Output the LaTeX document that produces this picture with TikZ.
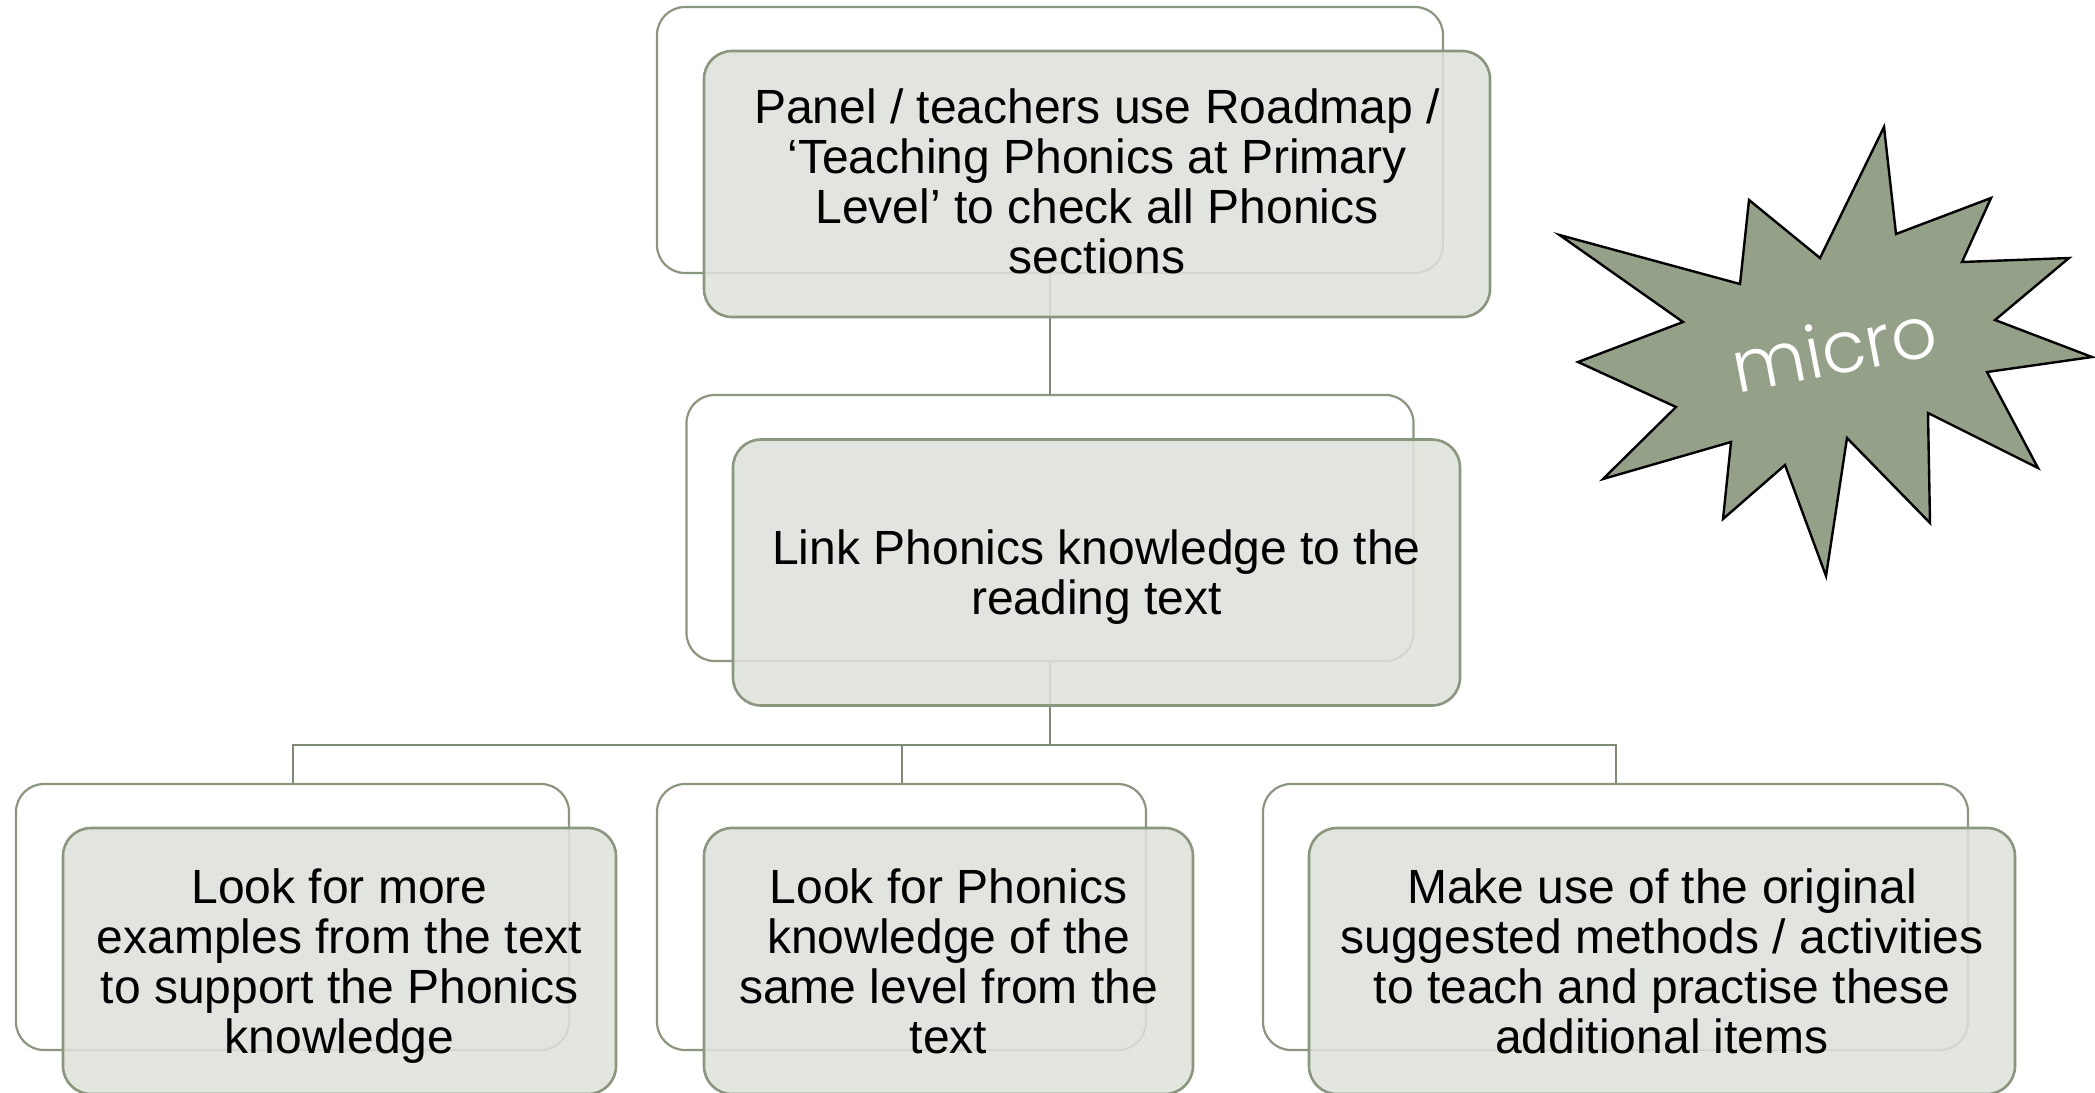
\documentclass[tikz,border=0pt]{standalone}
\usepackage{fontspec}
\setmainfont{Liberation Sans}
\newfontfamily\burstfont{Poppins Light}
\definecolor{framecol}{HTML}{8A967E}
\definecolor{frontfill}{HTML}{DFE1DB}
\definecolor{linkcol}{HTML}{7F8A74}
\definecolor{burstfill}{HTML}{95A089}
\tikzset{
  backframe/.style={draw=framecol, line width=2.2pt, rounded corners=28pt,
    fill=white, minimum height=266pt, inner sep=0pt},
  frontbox/.style={draw=framecol, line width=2.6pt, rounded corners=28pt,
    fill=frontfill, fill opacity=0.88, text opacity=1, minimum height=266pt,
    inner sep=0pt, align=center, text depth=0pt,
    font=\fontsize{48}{50}\selectfont},
  conn/.style={draw=linkcol, line width=2pt},
}
\begin{document}
\begin{tikzpicture}[x=1pt,y=-1pt]
\useasboundingbox (0,0) rectangle (2095,1092);

% back frames
\node[backframe, minimum width=786pt] (tb) at (1050,140) {};
\node[backframe, minimum width=727pt] (mb) at (1050,528) {};
\node[backframe, minimum width=553pt] (lb) at (292.5,917) {};
\node[backframe, minimum width=489pt] (cb) at (901.5,917) {};
\node[backframe, minimum width=705pt] (rb) at (1615.5,917) {};

% connectors
\path (mb.south) ++(0,83) coordinate (j);
\draw[conn] (tb.south) -- (mb.north);
\draw[conn] (mb.south) -- (j);
\draw[conn] (lb.north) -- (lb.north |- j) -- (rb.north |- j) -- (rb.north);
\draw[conn] (cb.north) -- (cb.north |- j);

% front boxes
\node[frontbox, minimum width=786pt, text depth=5pt] (tf) at (1097,184)
  {Panel / teachers use Roadmap /\\ `Teaching Phonics at Primary\\ Level' to check all Phonics\\ sections};
\node[frontbox, minimum width=727pt] (mf) at (1096.5,572.5)
  {Link Phonics knowledge to the\\ reading text};
\node[frontbox, minimum width=553pt] (lf) at (339.5,961)
  {Look for more\\ examples from the text\\ to support the Phonics\\ knowledge};
\node[frontbox, minimum width=489pt] (cf) at (948.5,961)
  {Look for Phonics\\ knowledge of the\\ same level from the\\ text};
\node[frontbox, minimum width=706pt] (rf) at (1662,961)
  {Make use of the original\\ suggested methods / activities\\ to teach and practise these\\ additional items};

% starburst
\filldraw[fill=burstfill, draw=black, line width=2.4pt, line join=miter]
  (1559.5,235) -- (1740,284) -- (1749,200) -- (1820,258) -- (1884,127)
  -- (1896,234) -- (1991,198) -- (1962,262) -- (2069,258) -- (1995,320)
  -- (2092,357) -- (1987,372) -- (2038,468) -- (1928,413) -- (1930,523)
  -- (1847,438) -- (1826,576) -- (1785,465) -- (1723,519) -- (1731,442)
  -- (1603,479) -- (1676,407) -- (1578,362) -- (1683,322) -- cycle;
\node[rotate=11, text=white, font=\burstfont\fontsize{72}{72}\selectfont]
  (burst) at (1834,348) {micro};
\end{tikzpicture}
\end{document}
